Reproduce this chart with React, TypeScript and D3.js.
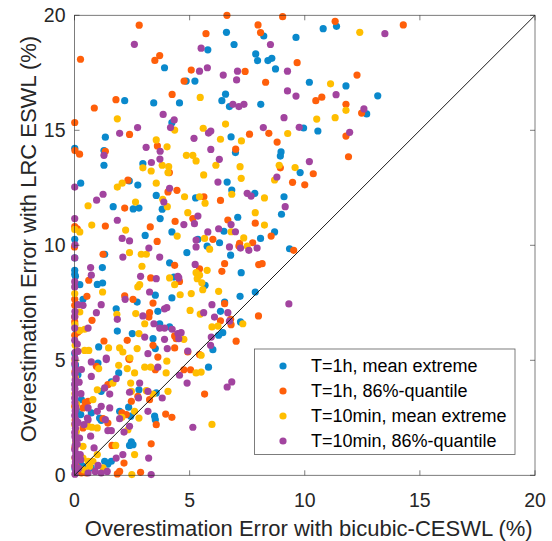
import React from "react";
import * as d3 from "d3";

type P = [number, number];

const xTicks = [0, 5, 10, 15, 20];
const yTicks = [0, 5, 10, 15, 20];
const xLabel = "Overestimation Error with bicubic-CESWL (%)";
const yLabel = "Overestimation Error with LRC ESWL (%)";
const seriesNames = [
  "T=1h, mean extreme",
  "T=1h, 86%-quantile",
  "T=10min, mean extreme",
  "T=10min, 86%-quantile",
];
const seriesColors = ["#0a89cc", "#ff5f0a", "#ffbe00", "#a2449f"];

const h1Mean: P[] = [
  [6.6,19.26],[8.22,19.1],[9.62,19.04],[10.8,19.42],[11.38,19.52],[6.93,18.73],[5.79,18.5],[7.87,18.32],
  [7.95,18.03],[8.4,18.03],[8.57,18.13],[8.73,17.67],[3.91,17.72],[4.85,17.14],[5.23,17.14],[10.2,17.09],
  [11.79,16.93],[2.18,16.29],[3.44,16.19],[4.56,16.19],[6.56,16.57],[6.4,16.29],[6.73,16.03],[8.09,16.13],
  [13.17,16.5],[12.69,15.71],[4.23,15.33],[9.95,15.1],[10.57,14.97],[1.34,14.7],[0.01,14.22],[1.28,14.12],
  [1.28,13.48],[6.8,14.71],[6.99,14.03],[8.97,14.06],[8.94,13.88],[2.97,13.55],[9.8,13.16],[6.63,12.75],
  [6.83,12.4],[7.83,12.26],[9.1,12.11],[8.99,11.35],[7.09,11.22],[2.38,12.8],[2.75,12.62],[0.27,12.7],
  [3.55,12.17],[3.81,11.57],[5.26,12.06],[1.68,11.68],[2.55,11.58],[2.8,11.62],[3.72,11.16],[3.07,10.43],
  [4.23,10.58],[0.01,10.26],[6.49,10.61],[8.69,10.58],[8.08,10.3],[5.36,10.26],[6.3,10.11],[5.76,9.96],
  [6.78,9.57],[9.34,9.85],[4.88,9.68],[1.31,9.61],[0.01,9.45],[4.13,9.24],[1.21,9.03],[0.01,8.91],
  [0.01,8.74],[0.04,8.65],[0.23,8.29],[0.99,8.3],[1.22,8.36],[4.32,8.62],[7.24,8.81],[5.67,8.26],
  [7.85,7.97],[7.19,7.78],[3.51,7.83],[2.72,7.53],[4.23,7.71],[0.37,7.65],[1.81,7.24],[1.86,6.27],
  [3.62,7.13],[3.7,6.59],[4.13,6.45],[6.52,7.53],[6.34,7.13],[7.21,6.67],[6.44,6.2],[6.26,6.09],
  [6.01,5.46],[2.51,6.16],[3.41,5.94],[3.51,5.51],[1.05,5.58],[0.08,6.2],[1.02,4.88],[1.92,4.45],
  [1.6,4.06],[1.16,3.65],[2.8,3.72],[3.55,3.58],[0.3,3.29],[0.08,2.85],[0.27,2.64],[0.73,2.71],
  [1.09,2.49],[1.16,2.39],[1.96,2.78],[2.35,2.96],[2.44,2.57],[3.48,2.57],[3.51,2.42],[2.47,1.45],
  [2.54,1.33],[2.39,1.3],[1.31,0.61],[1.6,0.61],[1.45,0.49],[0.73,0.32],[0.27,0.46],[0.37,0.39],
  [5.82,4.7],[0.15,4.37],[0.04,4.81],[0.02,3.95],[0.03,4.75],[0.05,1.8],[0.02,0.3],[0.01,5.3],
];

const h1Q86: P[] = [
  [6.62,20.0],[2.81,19.57],[5.71,19.2],[7.97,19.58],[8.08,19.25],[9.04,19.94],[11.32,19.74],[14.28,19.58],
  [0.26,18.09],[3.7,18.25],[3.49,18.04],[5.07,17.62],[4.76,17.14],[7.41,17.56],[9.67,17.94],[8.3,17.09],
  [12.27,17.4],[4.24,16.56],[1.8,16.33],[0.86,15.97],[10.48,16.29],[10.74,16.44],[11.79,16.13],[12.47,15.75],
  [0.01,15.34],[2.39,14.82],[0.02,14.12],[0.22,13.96],[1.34,14.09],[3.6,14.32],[7.0,14.18],[7.6,14.83],
  [8.44,14.87],[8.8,14.49],[11.79,14.75],[11.9,13.85],[4.12,13.16],[8.94,13.37],[10.37,13.11],[9.47,12.74],
  [10.0,12.63],[2.32,12.83],[4.06,12.32],[4.45,12.39],[5.62,12.11],[6.34,11.95],[2.18,11.62],[5.14,11.16],
  [4.37,11.04],[3.29,10.8],[1.34,10.84],[0.01,10.81],[0.12,10.72],[3.59,10.17],[6.66,11.1],[7.85,10.96],
  [8.54,10.4],[6.01,10.26],[7.17,10.09],[7.74,10.11],[7.14,9.97],[9.52,9.78],[6.52,9.2],[6.4,8.87],
  [8.0,9.16],[8.15,9.2],[5.43,8.98],[0.0,9.93],[1.24,9.61],[4.35,9.13],[0.62,8.48],[3.31,8.58],
  [4.56,8.43],[0.01,7.65],[2.18,7.8],[2.54,7.65],[3.41,7.49],[0.54,7.78],[0.01,7.39],[0.01,6.88],
  [0.01,6.67],[0.01,6.09],[0.76,6.74],[0.15,6.23],[3.26,7.07],[3.23,6.88],[2.29,5.87],[4.35,6.06],
  [4.42,5.94],[3.41,5.65],[4.35,5.54],[1.28,5.84],[2.36,5.07],[3.62,5.14],[4.92,5.36],[6.52,7.46],
  [6.34,6.72],[6.78,6.78],[6.8,6.55],[7.99,6.93],[7.02,5.83],[5.43,5.25],[0.95,4.74],[2.39,5.03],
  [3.51,4.59],[4.75,4.59],[5.04,4.59],[1.45,3.94],[2.47,3.22],[2.75,3.43],[3.26,3.29],[0.47,3.17],
  [0.59,3.22],[0.37,2.93],[2.06,2.71],[2.25,2.64],[3.96,2.66],[4.23,2.52],[3.55,2.2],[1.24,2.46],
  [1.45,2.27],[0.37,2.06],[1.63,1.3],[3.33,1.37],[2.15,0.53],[1.86,0.06],[1.96,0.17],[2.87,0.13],
  [0.51,0.1],[0.3,0.1],[0.15,0.32],[5.65,3.53],[0.01,3.0],[0.02,1.2],[0.05,0.5],[0.03,2.4],[0.02,4.5],
];

const m10Mean: P[] = [
  [12.39,19.26],[5.46,16.43],[11.12,17.02],[1.86,15.5],[10.52,15.49],[11.32,15.55],[11.79,15.87],[6.56,15.27],
  [5.59,15.09],[4.35,15.01],[9.26,14.86],[3.55,14.58],[4.02,14.28],[6.34,14.61],[7.25,14.54],[4.86,13.91],
  [5.14,13.91],[5.28,13.67],[6.14,13.48],[7.19,13.42],[2.97,13.37],[3.33,13.23],[3.81,13.48],[4.09,13.42],
  [4.06,13.16],[8.89,13.48],[9.58,13.38],[5.61,13.06],[7.24,12.91],[8.69,12.84],[2.07,12.7],[1.86,12.53],
  [3.55,12.7],[4.78,12.11],[5.43,12.11],[5.67,11.83],[6.83,12.22],[8.25,12.06],[3.83,12.0],[4.03,11.68],
  [0.59,11.72],[2.65,11.88],[4.92,11.42],[7.85,11.42],[8.25,10.88],[0.75,10.88],[0.01,10.69],[0.23,10.58],
  [2.22,10.66],[4.46,10.4],[6.8,10.59],[7.35,10.32],[5.65,10.3],[7.5,9.97],[5.87,9.83],[2.39,9.68],
  [2.9,9.61],[3.12,9.61],[2.93,9.09],[5.76,8.91],[5.43,8.7],[5.53,8.37],[5.57,8.07],[6.26,8.0],
  [5.28,8.81],[5.33,8.55],[4.13,8.58],[4.35,8.29],[4.59,7.85],[5.07,7.9],[5.02,7.17],[2.83,8.29],
  [2.75,8.19],[1.22,7.97],[0.01,7.9],[0.23,7.1],[0.23,6.3],[0.44,6.35],[1.84,7.0],[2.66,7.03],
  [3.05,6.59],[2.8,6.16],[4.75,5.91],[2.72,5.51],[1.48,5.54],[0.44,5.43],[0.62,5.43],[1.96,5.54],
  [2.1,5.36],[2.41,5.1],[5.46,7.01],[5.97,6.45],[6.23,6.49],[7.31,6.59],[5.5,5.22],[1.05,4.64],
  [1.92,4.78],[2.29,4.64],[2.61,4.45],[3.05,4.7],[3.31,4.7],[4.01,4.96],[3.98,4.45],[5.28,4.45],
  [5.5,4.49],[2.44,4.01],[1.67,4.01],[0.99,3.72],[2.47,3.65],[3.12,3.68],[3.41,3.53],[4.06,3.65],
  [0.8,3.29],[2.61,2.78],[2.8,2.49],[2.06,2.52],[0.59,2.13],[0.76,2.09],[0.99,2.06],[2.32,1.98],
  [5.97,2.21],[1.79,1.3],[0.37,1.26],[0.99,0.9],[2.61,0.9],[0.8,0.61],[1.24,0.32],[2.49,0.03],
  [0.41,0.24],[0.37,0.75],[0.59,0.61],[0.66,0.39],[0.02,5.0],[0.04,4.25],[0.02,3.55],[0.03,2.95],
  [0.01,2.2],[0.05,1.45],[0.02,0.75],[0.03,5.65],[0.02,6.55],[0.1,3.1],[0.08,1.9],
];

const m10Q86: P[] = [
  [13.48,19.2],[2.6,18.74],[8.51,18.73],[5.5,18.57],[5.43,17.57],[5.77,17.72],[6.46,17.4],[7.08,17.57],
  [7.04,17.19],[9.25,17.57],[9.25,16.71],[9.62,16.49],[11.36,16.55],[12.57,15.93],[6.88,16.13],[7.14,16.03],
  [7.36,16.13],[3.85,15.69],[4.33,15.45],[9.1,15.55],[2.74,15.12],[4.17,15.12],[8.2,15.12],[9.76,15.13],
  [11.95,14.91],[1.96,14.87],[5.19,14.65],[5.82,14.88],[5.92,14.97],[3.11,14.26],[3.72,14.09],[5.92,14.17],
  [1.28,13.91],[3.71,13.75],[6.29,13.74],[3.34,13.6],[10.2,13.64],[8.79,12.97],[6.23,12.75],[4.13,12.48],
  [0.01,12.53],[1.24,12.22],[0.96,11.96],[7.5,12.26],[7.67,12.14],[3.88,11.88],[9.15,11.68],[5.21,10.94],
  [4.75,10.9],[5.36,11.27],[0.01,11.16],[1.86,11.09],[6.8,10.9],[6.26,10.72],[6.99,10.59],[5.79,10.58],
  [5.28,10.23],[2.07,10.3],[2.39,10.19],[6.73,9.93],[7.21,9.88],[7.57,9.78],[7.93,9.88],[5.28,9.93],
  [3.23,9.88],[2.1,9.49],[3.7,9.49],[0.01,9.45],[5.24,9.17],[0.7,9.03],[0.73,8.7],[2.87,8.65],
  [3.55,8.55],[4.49,8.65],[4.53,8.58],[0.01,8.19],[3.26,7.97],[2.2,7.65],[9.31,7.45],[1.16,7.42],
  [0.95,7.07],[0.15,7.42],[0.37,7.39],[0.01,6.4],[0.59,6.4],[0.01,5.87],[1.86,6.78],[2.97,6.93],
  [3.91,7.24],[4.01,7.29],[3.45,6.59],[3.7,6.4],[3.91,6.4],[4.24,6.35],[3.05,6.01],[3.91,5.91],
  [4.49,6.16],[4.63,6.2],[4.53,5.94],[4.03,5.51],[3.19,5.29],[0.15,5.39],[1.38,5.1],[4.92,5.4],
  [5.97,7.42],[5.61,7.07],[6.66,7.07],[6.08,6.88],[6.73,6.7],[5.94,6.01],[5.91,5.65],[0.73,4.93],
  [1.38,5.03],[3.62,4.7],[4.56,4.35],[4.89,4.01],[2.83,4.01],[0.73,4.3],[1.81,4.2],[1.31,3.8],
  [1.53,3.53],[3.19,3.65],[3.81,3.36],[2.39,3.61],[2.78,3.36],[1.16,3.0],[0.99,2.78],[0.59,2.93],
  [0.56,2.49],[1.34,2.42],[1.53,2.93],[1.96,2.46],[3.19,2.78],[5.14,2.09],[0.59,2.42],[0.41,2.2],
  [0.7,1.7],[1.45,1.94],[1.6,1.94],[2.15,1.88],[2.39,2.13],[2.1,0.9],[1.81,0.75],[3.22,0.75],
  [0.85,1.19],[1.02,0.43],[0.9,0.17],[1.42,0.17],[1.16,0.1],[3.33,0.03],[0.59,0.1],[0.27,0.68],
  [6.63,3.84],[6.83,4.06],
  [0.02,0.05],[0.05,0.22],[0.01,0.4],[0.04,0.58],[0.02,0.78],[0.06,0.95],[0.01,1.12],[0.03,1.3],
  [0.05,1.5],[0.02,1.68],[0.01,1.86],[0.04,2.05],[0.02,2.24],[0.06,2.42],[0.01,2.6],[0.03,2.8],
  [0.05,2.98],[0.02,3.16],[0.01,3.36],[0.04,3.55],[0.02,3.75],[0.01,3.95],[0.03,4.15],[0.02,4.4],
  [0.04,4.62],[0.01,4.85],[0.02,5.08],[0.03,5.35],[0.01,6.9],[0.02,7.12],[0.01,8.42],[0.02,10.02],
  [0.18,0.3],[0.25,0.9],[0.12,1.35],[0.22,1.62],[0.15,2.3],[0.28,3.55],[0.2,4.05],[0.3,4.6],[0.12,5.7],
];

const allSeries: P[][] = [h1Mean, h1Q86, m10Mean, m10Q86];

const W = 552, H = 541;
const L = 74.5, R = 535, T = 15.3, B = 475.3;
const FONT = "'Liberation Sans', Arial, Helvetica, sans-serif";
const AX = "#262626";

export default function App() {
  const x = d3.scaleLinear().domain([0, 20]).range([L, R]);
  const y = d3.scaleLinear().domain([0, 20]).range([B, T]);
  const diag = d3.line<P>().x(d => x(d[0])).y(d => y(d[1]));
  const tickLen = 5;
  const legX = 254.5, legY = 349, legW = 260.5, legH = 105.5;
  return (
    <svg width={W} height={H} style={{ position: "absolute", left: 0, top: 0, background: "#fff" }} fontFamily={FONT}>
      <rect x={0} y={0} width={W} height={H} fill="#fff" />
      {allSeries.map((s, si) => (
        <g key={si} fill={seriesColors[si]}>
          {s.map((d, i) => (
            <circle key={i} cx={x(d[0])} cy={y(d[1])} r={3.6} />
          ))}
        </g>
      ))}
      <path d={diag([[0, 0], [20, 20]]) || ""} stroke="#1a1a1a" strokeWidth={1} fill="none" />
      <rect x={L} y={T} width={R - L} height={B - T} fill="none" stroke={AX} strokeWidth={0.8} strokeOpacity={0.75} />
      {xTicks.map(t => (
        <g key={"xt" + t}>
          <line x1={x(t)} x2={x(t)} y1={B} y2={B - tickLen} stroke={AX} strokeWidth={0.8} strokeOpacity={0.75} />
          <line x1={x(t)} x2={x(t)} y1={T} y2={T + tickLen} stroke={AX} strokeWidth={0.8} strokeOpacity={0.75} />
          <text x={x(t)} y={B + 25} textAnchor="middle" dominantBaseline="central" fontSize={19.5} fill={AX}>{t}</text>
        </g>
      ))}
      {yTicks.map(t => (
        <g key={"yt" + t}>
          <line x1={L} x2={L + tickLen} y1={y(t)} y2={y(t)} stroke={AX} strokeWidth={0.8} strokeOpacity={0.75} />
          <line x1={R} x2={R - tickLen} y1={y(t)} y2={y(t)} stroke={AX} strokeWidth={0.8} strokeOpacity={0.75} />
          <text x={L - 9} y={y(t)} textAnchor="end" dominantBaseline="central" fontSize={19.5} fill={AX}>{t}</text>
        </g>
      ))}
      <text x={(L + R) / 2 + 4} y={528} textAnchor="middle" dominantBaseline="central" fontSize={22} fill={AX}>{xLabel}</text>
      <text transform={`translate(28,${239}) rotate(-90)`} textAnchor="middle" dominantBaseline="central" fontSize={22} fill={AX}>{yLabel}</text>
      <rect x={legX} y={legY} width={legW} height={legH} fill="#fff" stroke={AX} strokeWidth={0.8} strokeOpacity={0.75} />
      {seriesNames.map((n, i) => (
        <g key={n}>
          <circle cx={283} cy={366 + i * 25} r={3.6} fill={seriesColors[i]} />
          <text x={311} y={366 + i * 25} dominantBaseline="central" fontSize={18} fill="#000">{n}</text>
        </g>
      ))}
    </svg>
  );
}
